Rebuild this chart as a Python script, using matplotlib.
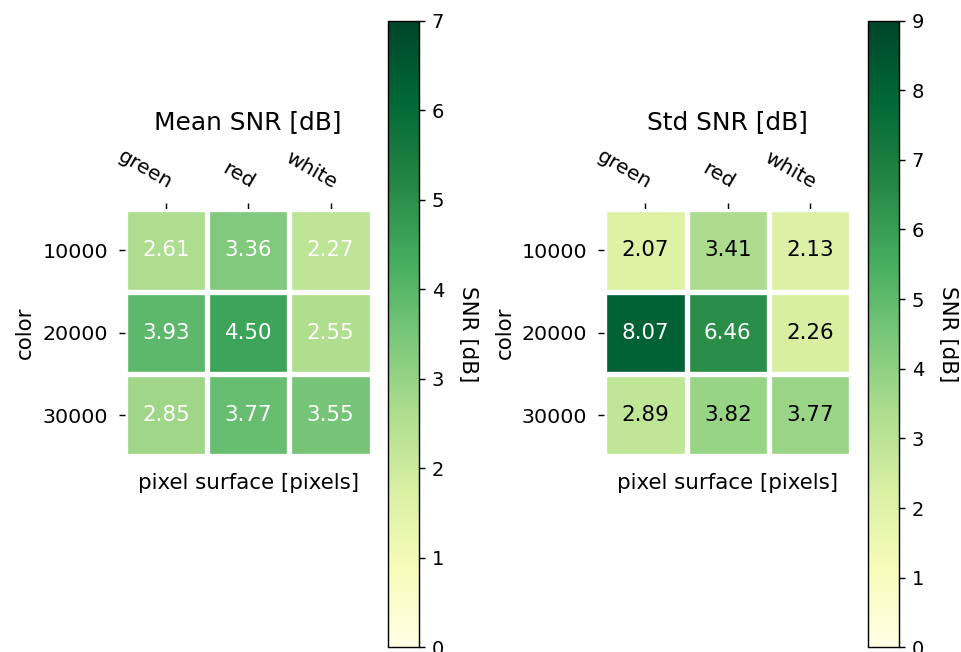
import numpy as np
import matplotlib
matplotlib.use("Agg")
import matplotlib.pyplot as plt

colors = ["green", "red", "white"]
surfaces = ["10000", "20000", "30000"]

mean_snr = np.array([[2.61, 3.36, 2.27],
                     [3.93, 4.50, 2.55],
                     [2.85, 3.77, 3.55]])

std_snr = np.array([[2.07, 3.41, 2.13],
                    [8.07, 6.46, 2.26],
                    [2.89, 3.82, 3.77]])


def heatmap(ax, cax, data, vmax, title):
    """
    Rysuje mape cieplna z paskiem kolorow i etykietami osi.
    """
    im = ax.imshow(data, cmap="YlGn", vmin=0, vmax=vmax)
    cbar = ax.figure.colorbar(im, cax=cax)
    cbar.ax.set_ylabel("SNR [dB]", rotation=-90, va="bottom", fontsize=12,
                       labelpad=8)
    cbar.ax.tick_params(labelsize=11)

    ax.set_xticks(np.arange(data.shape[1]), labels=colors)
    ax.set_yticks(np.arange(data.shape[0]), labels=surfaces)
    ax.tick_params(top=True, bottom=False, labeltop=True, labelbottom=False,
                   labelsize=11.5, pad=6)
    plt.setp(ax.get_xticklabels(), rotation=-30, ha="right",
             rotation_mode="anchor")

    for spine in ax.spines.values():
        spine.set_visible(False)

    ax.set_xticks(np.arange(data.shape[1] + 1) - .5, minor=True)
    ax.set_yticks(np.arange(data.shape[0] + 1) - .5, minor=True)
    ax.grid(which="minor", color="w", linestyle="-", linewidth=3)
    ax.tick_params(which="minor", bottom=False, left=False, top=False)

    ax.set_title(title, fontsize=14, pad=9.5)
    ax.set_xlabel("pixel surface [pixels]", fontsize=12)
    ax.set_ylabel("color", fontsize=12)
    return im


def annotate_heatmap(im, data, textcolors=("black", "white")):
    """
    Wpisuje wartosci do komorek, kolor tekstu zalezy od jasnosci tla.
    """
    threshold = im.norm(data.max()) / 2.
    for i in range(data.shape[0]):
        for j in range(data.shape[1]):
            color = textcolors[int(im.norm(data[i, j]) > threshold)]
            im.axes.text(j, i, f"{data[i, j]:.2f}", ha="center", va="center",
                         color=color, fontsize=12)


fig = plt.figure(figsize=(961 / 128, 652 / 128), dpi=128)
ax1 = fig.add_axes([0.1298, 0.3002, 0.2570, 0.3788])
cax1 = fig.add_axes([0.4037, 0.0072, 0.0326, 0.9613])
ax2 = fig.add_axes([0.6288, 0.3002, 0.2570, 0.3788])
cax2 = fig.add_axes([0.9029, 0.0072, 0.0329, 0.9613])

im1 = heatmap(ax1, cax1, mean_snr, 7, "Mean SNR [dB]")
annotate_heatmap(im1, mean_snr)
im2 = heatmap(ax2, cax2, std_snr, 9, "Std SNR [dB]")
annotate_heatmap(im2, std_snr)

fig.savefig("out.png", dpi=128)
